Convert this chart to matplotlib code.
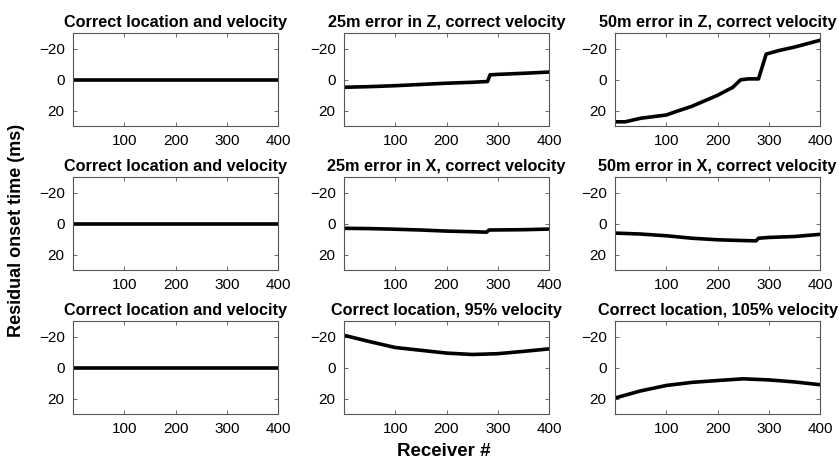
"""Residual onset time vs receiver for location / velocity errors."""
import matplotlib
matplotlib.use("Agg")
import matplotlib.pyplot as plt

plt.rcParams["font.family"] = ["Liberation Sans", "DejaVu Sans"]

titles = [
    "Correct location and velocity", "25m error in Z, correct velocity", "50m error in Z, correct velocity",
    "Correct location and velocity", "25m error in X, correct velocity", "50m error in X, correct velocity",
    "Correct location and velocity", "Correct location, 95% velocity", "Correct location, 105% velocity",
]

# receiver positions and residuals (ms)
flat_x = [1, 400]
flat_y = [0, 0]

z25_x = [1, 50, 100, 150, 200, 250, 280, 285, 300, 350, 400]
z25_y = [5.0, 4.6, 4.0, 3.2, 2.4, 1.8, 1.3, -3.0, -3.3, -4.0, -4.8]

z50_x = [1, 20, 50, 100, 120, 150, 200, 230, 245, 260, 280, 295, 320, 350, 400]
z50_y = [27.3, 27.3, 25.0, 22.9, 20.6, 17.3, 10.2, 5.0, 0.2, -0.4, -0.4, -16.4, -18.7, -20.9, -25.3]

x25_x = [1, 50, 90, 150, 200, 250, 278, 283, 350, 400]
x25_y = [3.1, 3.3, 3.6, 4.2, 4.9, 5.3, 5.6, 4.2, 4.0, 3.6]

x50_x = [1, 50, 100, 150, 200, 250, 275, 280, 300, 350, 400]
x50_y = [6.2, 6.8, 7.9, 9.5, 10.5, 11.0, 11.2, 9.5, 9.0, 8.4, 7.0]

v95_x = [1, 50, 100, 150, 200, 250, 300, 350, 400]
v95_y = [-20.7, -16.7, -12.9, -11.1, -9.3, -8.4, -8.9, -10.4, -12.0]

v105_x = [1, 50, 100, 150, 200, 250, 300, 350, 400]
v105_y = [19.6, 15.1, 11.6, 9.6, 8.4, 7.3, 8.0, 9.3, 11.1]

series = [
    (flat_x, flat_y), (z25_x, z25_y), (z50_x, z50_y),
    (flat_x, flat_y), (x25_x, x25_y), (x50_x, x50_y),
    (flat_x, flat_y), (v95_x, v95_y), (v105_x, v105_y),
]

W, H = 839, 462
fig = plt.figure(figsize=(W / 100, H / 100), dpi=100)

col_left = [73, 344, 615]
row_top = [33, 177, 321]
ax_w, ax_h = 205, 93

for i, (title, (xs, ys)) in enumerate(zip(titles, series)):
    r, c = divmod(i, 3)
    ax = fig.add_axes([col_left[c] / W, 1 - (row_top[r] + ax_h) / H, ax_w / W, ax_h / H])
    ax.plot(xs, ys, color="black", linewidth=2.6)
    ax.set_xlim(0, 400)
    ax.set_ylim(30, -30)
    ax.set_xticks([100, 200, 300, 400])
    ax.set_yticks([-20, 0, 20])
    ax.tick_params(direction="in", top=True, right=True, length=3, width=0.6,
                   labelsize=11, color="#555555", pad=6)
    for s in ax.spines.values():
        s.set_color("#555555")
        s.set_linewidth(0.8)
    ax.set_title(title, fontsize=11.7, fontweight="bold", pad=4)

fig.text(17 / W, 1 - 230 / H, "Residual onset time (ms)", rotation=90,
         ha="center", va="center", fontsize=13, fontweight="bold")
fig.text(444 / W, 1 - 451 / H, "Receiver #", ha="center", va="center",
         fontsize=13.5, fontweight="bold")

plt.savefig("out.png", dpi=100)
